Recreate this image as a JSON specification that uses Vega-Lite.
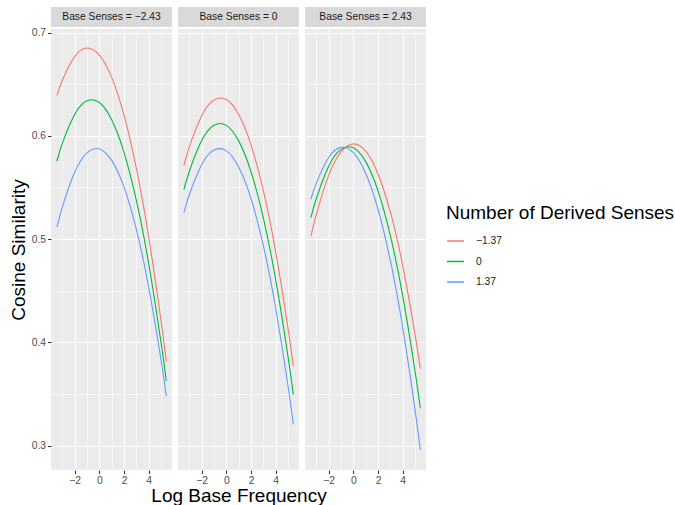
{
  "$schema": "https://vega.github.io/schema/vega-lite/v6.json",
  "padding": {"left": 9, "top": 7, "right": 0, "bottom": 0},
  "datasets": {
    "curves": [
      {"base":"−2.43","derived":"−1.37","x":-3.44,"y":0.6389},{"base":"−2.43","derived":"−1.37","x":-3,"y":0.6538},{"base":"−2.43","derived":"−1.37","x":-2,"y":0.6768},{"base":"−2.43","derived":"−1.37","x":-1,"y":0.685},{"base":"−2.43","derived":"−1.37","x":0,"y":0.6782},{"base":"−2.43","derived":"−1.37","x":1,"y":0.6566},{"base":"−2.43","derived":"−1.37","x":2,"y":0.62},{"base":"−2.43","derived":"−1.37","x":3,"y":0.5686},{"base":"−2.43","derived":"−1.37","x":4,"y":0.5022},{"base":"−2.43","derived":"−1.37","x":5,"y":0.421},{"base":"−2.43","derived":"−1.37","x":5.43,"y":0.3815},
      {"base":"−2.43","derived":"0","x":-3.44,"y":0.5756},{"base":"−2.43","derived":"0","x":-3,"y":0.5927},{"base":"−2.43","derived":"0","x":-2,"y":0.6207},{"base":"−2.43","derived":"0","x":-1,"y":0.6339},{"base":"−2.43","derived":"0","x":0,"y":0.6322},{"base":"−2.43","derived":"0","x":1,"y":0.6156},{"base":"−2.43","derived":"0","x":2,"y":0.584},{"base":"−2.43","derived":"0","x":3,"y":0.5376},{"base":"−2.43","derived":"0","x":4,"y":0.4763},{"base":"−2.43","derived":"0","x":5,"y":0.4},{"base":"−2.43","derived":"0","x":5.43,"y":0.3627},
      {"base":"−2.43","derived":"1.37","x":-3.44,"y":0.5115},{"base":"−2.43","derived":"1.37","x":-3,"y":0.531},{"base":"−2.43","derived":"1.37","x":-2,"y":0.5647},{"base":"−2.43","derived":"1.37","x":-1,"y":0.5834},{"base":"−2.43","derived":"1.37","x":0,"y":0.5873},{"base":"−2.43","derived":"1.37","x":1,"y":0.5762},{"base":"−2.43","derived":"1.37","x":2,"y":0.5503},{"base":"−2.43","derived":"1.37","x":3,"y":0.5094},{"base":"−2.43","derived":"1.37","x":4,"y":0.4536},{"base":"−2.43","derived":"1.37","x":5,"y":0.383},{"base":"−2.43","derived":"1.37","x":5.43,"y":0.348},
      {"base":"0","derived":"−1.37","x":-3.44,"y":0.5713},{"base":"0","derived":"−1.37","x":-3,"y":0.5893},{"base":"0","derived":"−1.37","x":-2,"y":0.6195},{"base":"0","derived":"−1.37","x":-1,"y":0.6347},{"base":"0","derived":"−1.37","x":0,"y":0.6351},{"base":"0","derived":"−1.37","x":1,"y":0.6206},{"base":"0","derived":"−1.37","x":2,"y":0.5912},{"base":"0","derived":"−1.37","x":3,"y":0.5469},{"base":"0","derived":"−1.37","x":4,"y":0.4877},{"base":"0","derived":"−1.37","x":5,"y":0.4136},{"base":"0","derived":"−1.37","x":5.43,"y":0.3771},
      {"base":"0","derived":"0","x":-3.44,"y":0.5479},{"base":"0","derived":"0","x":-3,"y":0.5657},{"base":"0","derived":"0","x":-2,"y":0.5954},{"base":"0","derived":"0","x":-1,"y":0.6102},{"base":"0","derived":"0","x":0,"y":0.6101},{"base":"0","derived":"0","x":1,"y":0.5951},{"base":"0","derived":"0","x":2,"y":0.5652},{"base":"0","derived":"0","x":3,"y":0.5204},{"base":"0","derived":"0","x":4,"y":0.4607},{"base":"0","derived":"0","x":5,"y":0.3862},{"base":"0","derived":"0","x":5.43,"y":0.3495},
      {"base":"0","derived":"1.37","x":-3.44,"y":0.5257},{"base":"0","derived":"1.37","x":-3,"y":0.5432},{"base":"0","derived":"1.37","x":-2,"y":0.5721},{"base":"0","derived":"1.37","x":-1,"y":0.5862},{"base":"0","derived":"1.37","x":0,"y":0.5854},{"base":"0","derived":"1.37","x":1,"y":0.5697},{"base":"0","derived":"1.37","x":2,"y":0.5391},{"base":"0","derived":"1.37","x":3,"y":0.4936},{"base":"0","derived":"1.37","x":4,"y":0.4331},{"base":"0","derived":"1.37","x":5,"y":0.3578},{"base":"0","derived":"1.37","x":5.43,"y":0.3208},
      {"base":"2.43","derived":"−1.37","x":-3.44,"y":0.5028},{"base":"2.43","derived":"−1.37","x":-3,"y":0.524},{"base":"2.43","derived":"−1.37","x":-2,"y":0.5617},{"base":"2.43","derived":"−1.37","x":-1,"y":0.5844},{"base":"2.43","derived":"−1.37","x":0,"y":0.5922},{"base":"2.43","derived":"−1.37","x":1,"y":0.5851},{"base":"2.43","derived":"−1.37","x":2,"y":0.5631},{"base":"2.43","derived":"−1.37","x":3,"y":0.5263},{"base":"2.43","derived":"−1.37","x":4,"y":0.4745},{"base":"2.43","derived":"−1.37","x":5,"y":0.4078},{"base":"2.43","derived":"−1.37","x":5.43,"y":0.3746},
      {"base":"2.43","derived":"0","x":-3.44,"y":0.5208},{"base":"2.43","derived":"0","x":-3,"y":0.5393},{"base":"2.43","derived":"0","x":-2,"y":0.5706},{"base":"2.43","derived":"0","x":-1,"y":0.5869},{"base":"2.43","derived":"0","x":0,"y":0.5884},{"base":"2.43","derived":"0","x":1,"y":0.575},{"base":"2.43","derived":"0","x":2,"y":0.5467},{"base":"2.43","derived":"0","x":3,"y":0.5034},{"base":"2.43","derived":"0","x":4,"y":0.4453},{"base":"2.43","derived":"0","x":5,"y":0.3723},{"base":"2.43","derived":"0","x":5.43,"y":0.3363},
      {"base":"2.43","derived":"1.37","x":-3.44,"y":0.5386},{"base":"2.43","derived":"1.37","x":-3,"y":0.5542},{"base":"2.43","derived":"1.37","x":-2,"y":0.579},{"base":"2.43","derived":"1.37","x":-1,"y":0.5888},{"base":"2.43","derived":"1.37","x":0,"y":0.5837},{"base":"2.43","derived":"1.37","x":1,"y":0.5638},{"base":"2.43","derived":"1.37","x":2,"y":0.5289},{"base":"2.43","derived":"1.37","x":3,"y":0.4791},{"base":"2.43","derived":"1.37","x":4,"y":0.4145},{"base":"2.43","derived":"1.37","x":5,"y":0.3349},{"base":"2.43","derived":"1.37","x":5.43,"y":0.2961}
    ]
  },
  "columns": 3,
  "bounds": "flush",
  "align": "each",
  "spacing": {"row": 2, "column": 6},
  "concat": [
    {
      "width": 121, "height": 20,
      "view": {"fill": "#D9D9D9", "stroke": null},
      "data": {"values": [{"label": "Base Senses = −2.43"}]},
      "mark": {"type": "text", "fontSize": 10.3, "color": "#1A1A1A", "align": "center", "baseline": "middle"},
      "encoding": {"text": {"field": "label"}}
    },
    {
      "width": 121, "height": 20,
      "view": {"fill": "#D9D9D9", "stroke": null},
      "data": {"values": [{"label": "Base Senses = 0"}]},
      "mark": {"type": "text", "fontSize": 10.3, "color": "#1A1A1A", "align": "center", "baseline": "middle"},
      "encoding": {"text": {"field": "label"}}
    },
    {
      "width": 121, "height": 20,
      "view": {"fill": "#D9D9D9", "stroke": null},
      "data": {"values": [{"label": "Base Senses = 2.43"}]},
      "mark": {"type": "text", "fontSize": 10.3, "color": "#1A1A1A", "align": "center", "baseline": "middle"},
      "encoding": {"text": {"field": "label"}}
    },
    {
      "width": 121, "height": 441,
      "data": {"name": "curves"},
      "transform": [{"filter": {"field": "base", "equal": "−2.43"}}],
      "mark": {"type": "line", "interpolate": "natural", "strokeWidth": 1.1},
      "encoding": {
        "x": {"field": "x", "type": "quantitative", "scale": {"domain": [-3.92, 5.89], "nice": false, "zero": false},
          "axis": {"values": [-3,-2,-1,0,1,2,3,4,5], "labelExpr": "datum.value % 2 === 0 ? datum.label : ''",
            "gridWidth": {"condition": {"test": "datum.value % 2 === 0", "value": 1.1}, "value": 0.55},
            "tickOpacity": {"condition": {"test": "datum.value % 2 === 0", "value": 1}, "value": 0},
            "title": null}},
        "y": {"field": "y", "type": "quantitative", "scale": {"domain": [0.2765, 0.7034], "nice": false, "zero": false},
          "axis": {"values": [0.3,0.35,0.4,0.45,0.5,0.55,0.6,0.65,0.7], "format": ".1f",
            "labelExpr": "round(datum.value*20) % 2 === 0 ? datum.label : ''",
            "gridWidth": {"condition": {"test": "round(datum.value*20) % 2 === 0", "value": 1.1}, "value": 0.55},
            "tickOpacity": {"condition": {"test": "round(datum.value*20) % 2 === 0", "value": 1}, "value": 0},
            "title": "Cosine Similarity", "titlePadding": 3}},
        "color": {"field": "derived", "type": "nominal", "title": "Number of Derived Senses",
          "scale": {"domain": ["−1.37", "0", "1.37"], "range": ["#F8766D", "#00BA38", "#619CFF"]},
          "legend": {"orient": "none", "legendX": 395, "legendY": 197}}
      }
    },
    {
      "width": 121, "height": 441,
      "data": {"name": "curves"},
      "transform": [{"filter": {"field": "base", "equal": "0"}}],
      "mark": {"type": "line", "interpolate": "natural", "strokeWidth": 1.1},
      "encoding": {
        "x": {"field": "x", "type": "quantitative", "scale": {"domain": [-3.92, 5.89], "nice": false, "zero": false},
          "axis": {"values": [-3,-2,-1,0,1,2,3,4,5], "labelExpr": "datum.value % 2 === 0 ? datum.label : ''",
            "gridWidth": {"condition": {"test": "datum.value % 2 === 0", "value": 1.1}, "value": 0.55},
            "tickOpacity": {"condition": {"test": "datum.value % 2 === 0", "value": 1}, "value": 0},
            "title": "Log Base Frequency"}},
        "y": {"field": "y", "type": "quantitative", "scale": {"domain": [0.2765, 0.7034], "nice": false, "zero": false},
          "axis": {"values": [0.3,0.35,0.4,0.45,0.5,0.55,0.6,0.65,0.7], "labels": false, "ticks": false, "title": null,
            "gridWidth": {"condition": {"test": "round(datum.value*20) % 2 === 0", "value": 1.1}, "value": 0.55}}},
        "color": {"field": "derived", "type": "nominal", "title": "Number of Derived Senses",
          "scale": {"domain": ["−1.37", "0", "1.37"], "range": ["#F8766D", "#00BA38", "#619CFF"]},
          "legend": {"orient": "none", "legendX": 395, "legendY": 197}}
      }
    },
    {
      "width": 121, "height": 441,
      "data": {"name": "curves"},
      "transform": [{"filter": {"field": "base", "equal": "2.43"}}],
      "mark": {"type": "line", "interpolate": "natural", "strokeWidth": 1.1},
      "encoding": {
        "x": {"field": "x", "type": "quantitative", "scale": {"domain": [-3.92, 5.89], "nice": false, "zero": false},
          "axis": {"values": [-3,-2,-1,0,1,2,3,4,5], "labelExpr": "datum.value % 2 === 0 ? datum.label : ''",
            "gridWidth": {"condition": {"test": "datum.value % 2 === 0", "value": 1.1}, "value": 0.55},
            "tickOpacity": {"condition": {"test": "datum.value % 2 === 0", "value": 1}, "value": 0},
            "title": null}},
        "y": {"field": "y", "type": "quantitative", "scale": {"domain": [0.2765, 0.7034], "nice": false, "zero": false},
          "axis": {"values": [0.3,0.35,0.4,0.45,0.5,0.55,0.6,0.65,0.7], "labels": false, "ticks": false, "title": null,
            "gridWidth": {"condition": {"test": "round(datum.value*20) % 2 === 0", "value": 1.1}, "value": 0.55}}},
        "color": {"field": "derived", "type": "nominal", "title": "Number of Derived Senses",
          "scale": {"domain": ["−1.37", "0", "1.37"], "range": ["#F8766D", "#00BA38", "#619CFF"]},
          "legend": {"orient": "none", "legendX": 395, "legendY": 197}}
      }
    }
  ],
  "config": {
    "font": "Liberation Sans",
    "background": "#FFFFFF",
    "view": {"fill": "#EBEBEB", "stroke": null},
    "axis": {"domain": false, "grid": true, "gridColor": "#FFFFFF", "tickColor": "#333333", "tickSize": 3.5, "tickWidth": 1,
      "labelColor": "#4D4D4D", "labelFontSize": 10.3, "labelPadding": 2, "labelFlush": false, "labelOverlap": false,
      "titleFontSize": 19, "titleFontWeight": "normal", "titleColor": "#000000"},
    "axisX": {"titlePadding": 1},
    "legend": {"titleFontSize": 19, "titleFontWeight": "normal", "titleColor": "#000000", "titlePadding": 8.5, "titleLimit": 400,
      "labelFontSize": 10.3, "labelColor": "#1A1A1A", "labelOffset": 11, "symbolType": "stroke", "symbolSize": 289,
      "symbolStrokeWidth": 1.5, "rowPadding": 5.5}
  }
}
